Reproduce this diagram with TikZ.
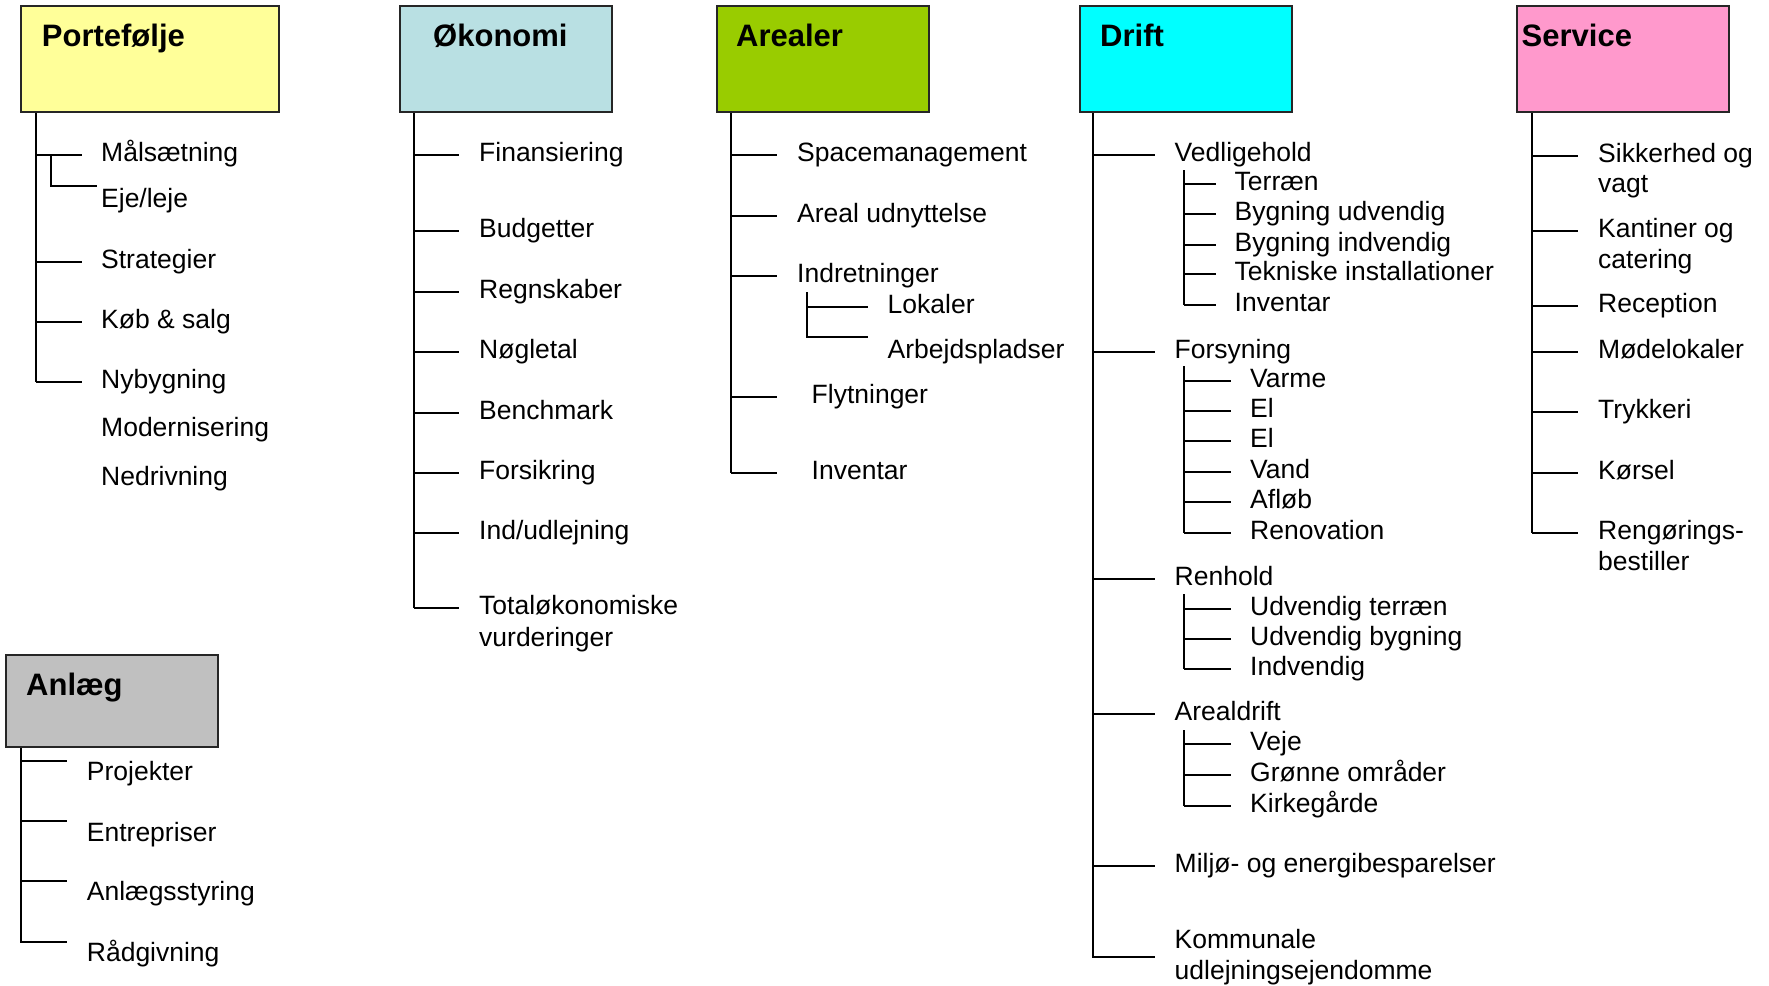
\documentclass[tikz,border=0pt]{standalone}
\usepackage{fontspec}
\setmainfont{Liberation Sans}
\definecolor{cPort}{HTML}{FFFF99}
\definecolor{cOek}{HTML}{B9E0E3}
\definecolor{cAre}{HTML}{99CC00}
\definecolor{cDri}{HTML}{00FFFF}
\definecolor{cSer}{HTML}{FF99CC}
\definecolor{cAnl}{HTML}{C0C0C0}
\tikzset{
  catbox/.style={draw=black!85, line width=2pt, inner sep=0pt, anchor=north west},
  ttl/.style={font=\bfseries\fontsize{31}{36}\selectfont, anchor=base west, inner sep=0pt},
  leaf/.style={font=\fontsize{26.5}{31}\selectfont, anchor=base west, inner sep=0pt},
  conn/.style={draw=black, line width=2pt}
}
% a leaf item: name, trunk x, line y, branch end x, text x, text
\newcommand\twig[6]{%
  \coordinate (#1-s) at (#2,#3);
  \coordinate (#1-e) at (#4,#3);
  \node[leaf] (#1) at (#5,#3+6.5) {#6};
  \draw[conn] (#1-s) -- (#1-e);
}
\begin{document}
\begin{tikzpicture}[x=1pt,y=-1pt]
\useasboundingbox (0,0) rectangle (1769,985);

% ---------- category boxes ----------
\node[catbox, fill=cPort, minimum width=258pt, minimum height=106pt] (bPort) at (20,5) {};
\node[catbox, fill=cOek,  minimum width=212pt, minimum height=106pt] (bOek)  at (399,5) {};
\node[catbox, fill=cAre,  minimum width=212pt, minimum height=106pt] (bAre)  at (716,5) {};
\node[catbox, fill=cDri,  minimum width=212pt, minimum height=106pt] (bDri)  at (1079,5) {};
\node[catbox, fill=cSer,  minimum width=212pt, minimum height=106pt] (bSer)  at (1516,5) {};
\node[catbox, fill=cAnl,  minimum width=212pt, minimum height=92pt]  (bAnl)  at (5,654) {};

\node[ttl] (tPort) at (41.7,46) {Portefølje};
\node[ttl] (tOek)  at (433,46) {Økonomi};
\node[ttl] (tAre)  at (736,46) {Arealer};
\node[ttl] (tDri)  at (1100,46) {Drift};
\node[ttl] (tSer)  at (1521.5,46) {Service};
\node[ttl] (tAnl)  at (26,695) {Anlæg};

% ---------- Portefølje ----------
\twig{pMaal}{36}{155}{82}{101}{Målsætning}
\coordinate (pEje-s) at (51,155);
\coordinate (pEje-e) at (97,186);
\node[leaf] (pEje) at (101,207) {Eje/leje};
\draw[conn] (pEje-s) |- (pEje-e);
\twig{pStrat}{36}{262}{82}{101}{Strategier}
\twig{pKoeb}{36}{322}{82}{101}{Køb \& salg}
\twig{pNyb}{36}{382}{82}{101}{Nybygning}
\node[leaf] (pMod) at (101,436) {Modernisering};
\node[leaf] (pNed) at (101,485) {Nedrivning};
\draw[conn] (bPort.south -| pMaal-s) -- (pNyb-s);

% ---------- Økonomi ----------
\twig{oFin}{414}{155}{459}{479}{Finansiering}
\twig{oBud}{414}{231}{459}{479}{Budgetter}
\twig{oReg}{414}{292}{459}{479}{Regnskaber}
\twig{oNoe}{414}{352}{459}{479}{Nøgletal}
\twig{oBen}{414}{413}{459}{479}{Benchmark}
\twig{oFor}{414}{473}{459}{479}{Forsikring}
\twig{oInd}{414}{533}{459}{479}{Ind/udlejning}
\twig{oTot}{414}{608}{459}{479}{Totaløkonomiske}
\node[leaf] (oTot2) at (479,646.7) {vurderinger};
\draw[conn] (bOek.south -| oFin-s) -- (oTot-s);

% ---------- Arealer ----------
\twig{aSpa}{731}{155}{777}{797}{Spacemanagement}
\twig{aAre}{731}{216}{777}{797}{Areal udnyttelse}
\twig{aInd}{731}{276}{777}{797}{Indretninger}
\twig{aFly}{731}{397}{777}{811.5}{Flytninger}
\twig{aInv}{731}{473}{777}{811.5}{Inventar}
\draw[conn] (bAre.south -| aSpa-s) -- (aInv-s);
\coordinate (aSub) at (807,292);
\coordinate (aLok-e) at (868,307);
\coordinate (aArb-e) at (868,337);
\node[leaf] (aLok) at (887.5,313.3) {Lokaler};
\node[leaf] (aArb) at (887.5,358.3) {Arbejdspladser};
\draw[conn] (aSub) |- (aArb-e);
\draw[conn] (aSub |- aLok-e) -- (aLok-e);

% ---------- Drift ----------
\twig{dVed}{1093}{155}{1155}{1174.5}{Vedligehold}
\twig{dFor}{1093}{352}{1155}{1174.5}{Forsyning}
\twig{dRen}{1093}{579}{1155}{1174.5}{Renhold}
\twig{dAre}{1093}{714}{1155}{1174.5}{Arealdrift}
\twig{dMil}{1093}{866}{1155}{1174.5}{Miljø- og energibesparelser}
\coordinate (dKom-s) at (1093,957);
\coordinate (dKom-e) at (1155,957);
\node[leaf] (dKom) at (1174.5,948.3) {Kommunale};
\node[leaf] (dKom2) at (1174.5,979.3) {udlejningsejendomme};
\draw[conn] (bDri.south -| dVed-s) |- (dKom-e);

% Vedligehold
\coordinate (dVedS) at (1184,170);
\twig{vTer}{1184}{184}{1216}{1234.5}{Terræn}
\twig{vByu}{1184}{214}{1216}{1234.5}{Bygning udvendig}
\twig{vByi}{1184}{245}{1216}{1234.5}{Bygning indvendig}
\twig{vTek}{1184}{274}{1216}{1234.5}{Tekniske installationer}
\twig{vInv}{1184}{305}{1216}{1234.5}{Inventar}
\draw[conn] (dVedS) -- (vInv-s);

% Forsyning
\coordinate (dForS) at (1184,366);
\twig{fVar}{1184}{381}{1231}{1250}{Varme}
\twig{fEla}{1184}{411}{1231}{1250}{El}
\twig{fElb}{1184}{441}{1231}{1250}{El}
\twig{fVan}{1184}{472}{1231}{1250}{Vand}
\twig{fAfl}{1184}{502}{1231}{1250}{Afløb}
\twig{fRen}{1184}{533}{1231}{1250}{Renovation}
\draw[conn] (dForS) -- (fRen-s);

% Renhold
\coordinate (dRenS) at (1184,594);
\twig{rUdt}{1184}{609}{1231}{1250}{Udvendig terræn}
\twig{rUdb}{1184}{639}{1231}{1250}{Udvendig bygning}
\twig{rInd}{1184}{669}{1231}{1250}{Indvendig}
\draw[conn] (dRenS) -- (rInd-s);

% Arealdrift
\coordinate (dAreS) at (1184,730);
\twig{eVej}{1184}{744}{1231}{1250}{Veje}
\twig{eGro}{1184}{775}{1231}{1250}{Grønne områder}
\twig{eKir}{1184}{806}{1231}{1250}{Kirkegårde}
\draw[conn] (dAreS) -- (eKir-s);

% ---------- Service ----------
\twig{sSik}{1532}{156}{1578}{1598}{Sikkerhed og}
\node[leaf] (sSik2) at (1598,192.7) {vagt};
\twig{sKan}{1532}{231}{1578}{1598}{Kantiner og}
\node[leaf] (sKan2) at (1598,268.3) {catering};
\twig{sRec}{1532}{306}{1578}{1598}{Reception}
\twig{sMoe}{1532}{352}{1578}{1598}{Mødelokaler}
\twig{sTry}{1532}{412}{1578}{1598}{Trykkeri}
\twig{sKoe}{1532}{473}{1578}{1598}{Kørsel}
\twig{sRgb}{1532}{533}{1578}{1598}{Rengørings-}
\node[leaf] (sRgb2) at (1598,570) {bestiller};
\draw[conn] (bSer.south -| sSik-s) -- (sRgb-s);

% ---------- Anlæg ----------
\coordinate (nPro-s) at (21,761);  \coordinate (nPro-e) at (67,761);
\coordinate (nEnt-s) at (21,821);  \coordinate (nEnt-e) at (67,821);
\coordinate (nAnl-s) at (21,881);  \coordinate (nAnl-e) at (67,881);
\coordinate (nRaa-s) at (21,942);  \coordinate (nRaa-e) at (67,942);
\node[leaf] (nPro) at (86.7,780) {Projekter};
\node[leaf] (nEnt) at (86.7,841.7) {Entrepriser};
\node[leaf] (nAnl) at (86.7,900) {Anlægsstyring};
\node[leaf] (nRaa) at (86.7,961.7) {Rådgivning};
\draw[conn] (nPro-s) -- (nPro-e);
\draw[conn] (nEnt-s) -- (nEnt-e);
\draw[conn] (nAnl-s) -- (nAnl-e);
\draw[conn] (bAnl.south -| nRaa-s) |- (nRaa-e);

\end{tikzpicture}
\end{document}
